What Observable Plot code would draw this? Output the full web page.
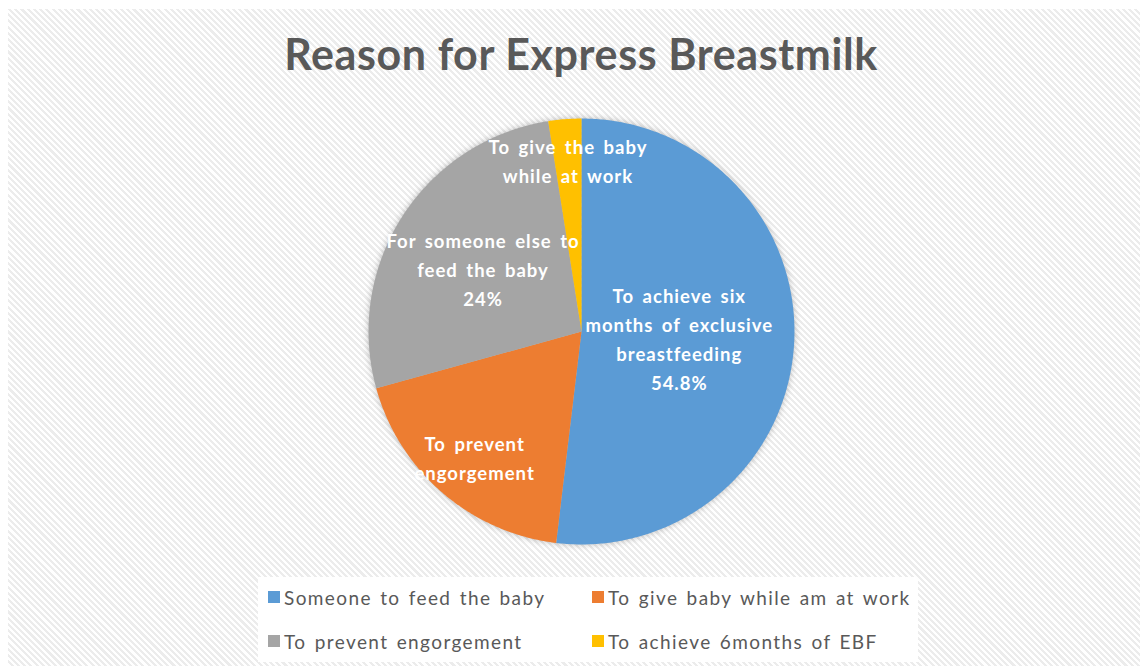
<!DOCTYPE html>
<html>
<head>
<meta charset="utf-8">
<script src="https://cdn.jsdelivr.net/npm/d3@7"></script>
<script src="https://cdn.jsdelivr.net/npm/@observablehq/plot@0.6"></script>
<style>
  html, body { margin: 0; padding: 0; background: #fff; }
  #page { position: relative; width: 1145px; height: 672px; overflow: hidden; background: #fff; }
  #area { position: absolute; left: 8px; top: 9px; width: 1132px; height: 657px;
    background: repeating-linear-gradient(45deg, #ffffff 0px, #ffffff 2.2px, #ececec 2.2px, #ececec 4.4px); }
  #title { position: absolute; left: 0; width: 1162px; top: 25px; text-align: center;
    font-family: Lato, "Open Sans", sans-serif; font-weight: bold; font-size: 43px; letter-spacing: 0.6px; color: #595959; line-height: 58px; }
  #chart { position: absolute; }
  #legend { position: absolute; left: 258px; top: 577px; width: 660px; height: 85px; background: #fff;
    font-family: Lato, sans-serif; font-size: 19px; letter-spacing: 1.4px; word-spacing: 2px; color: #595959; }
  .item { position: absolute; display: flex; align-items: center; white-space: nowrap; height: 24px; }
  .sw { width: 12px; height: 12px; margin-right: 4px; }
</style>
</head>
<body>
<div id="page">
  <div id="area"></div>
  <div id="title"></div>
  <div id="chart"></div>
  <div id="legend"></div>
</div>
<script>
// ---- data ----
const title = "Reason for Express Breastmilk";
const categories = ["Someone to feed the baby", "To give baby while am at work", "To prevent engorgement", "To achieve 6months of EBF"];
const values = [51.9, 18.8, 26.8, 2.5];
const sliceLabels = [
  "To achieve six\nmonths of exclusive\nbreastfeeding\n54.8%",
  "To prevent\nengorgement",
  "For someone else to\nfeed the baby\n24%",
  "To give the baby\nwhile at work"
];
const colors = ["#5B9BD5", "#ED7D31", "#A5A5A5", "#FFC000"];

// ---- layout ----
const labelRadius = [0.46, 0.77, 0.55, 0.81];
const size = 460, lim = 1.08;
const cx = 581, cy = 331;

document.getElementById("title").textContent = title;

const pie = d3.pie().sort(null).value(d => d.value);
const arcs = pie(categories.map((c, i) => ({key: c, value: values[i], label: sliceLabels[i], i})));

const pts = [];
arcs.forEach(a => {
  pts.push({key: a.data.key, x: 0, y: 0});
  const n = Math.max(4, Math.ceil((a.endAngle - a.startAngle) / 0.01));
  for (let k = 0; k <= n; k++) {
    const t = a.startAngle + (a.endAngle - a.startAngle) * k / n;
    pts.push({key: a.data.key, x: Math.sin(t), y: Math.cos(t)});
  }
});
const labs = arcs.map(a => {
  const m = (a.startAngle + a.endAngle) / 2, r = labelRadius[a.data.i];
  return {x: Math.sin(m) * r, y: Math.cos(m) * r, text: a.data.label};
});

const svg = Plot.plot({
  width: size, height: size, margin: 0,
  x: {domain: [-lim, lim], axis: null},
  y: {domain: [-lim, lim], axis: null},
  color: {domain: categories, range: colors},
  style: {background: "transparent", overflow: "visible"},
  marks: [
    Plot.line(pts, {x: "x", y: "y", z: "key", fill: "key", stroke: "none", curve: "linear-closed"}),
    Plot.text(labs, {x: "x", y: "y", text: "text", fill: "white", fontSize: 18.5, fontWeight: "bold",
      fontFamily: "Lato, sans-serif", lineHeight: 1.57, lineAnchor: "middle"})
  ]
});
const chart = document.getElementById("chart");
chart.style.left = (cx - size / 2) + "px";
chart.style.top = (cy - size / 2) + "px";
chart.appendChild(svg);
const lineG = svg.querySelector('g[aria-label="line"]');
if (lineG) lineG.style.filter = "drop-shadow(0 0 3px rgba(0,0,0,0.25))";
const textG = svg.querySelector('g[aria-label="text"]');
if (textG) { textG.style.letterSpacing = "1px"; textG.style.wordSpacing = "3px"; }

// legend
const legend = document.getElementById("legend");
const pos = [[10, 8], [334, 8], [10, 52], [334, 52]];
categories.forEach((c, i) => {
  const it = document.createElement("div");
  it.className = "item";
  it.style.left = pos[i][0] + "px";
  it.style.top = pos[i][1] + "px";
  it.innerHTML = `<span class="sw" style="background:${colors[i]}"></span><span>${c}</span>`;
  legend.appendChild(it);
});
</script>
</body>
</html>
